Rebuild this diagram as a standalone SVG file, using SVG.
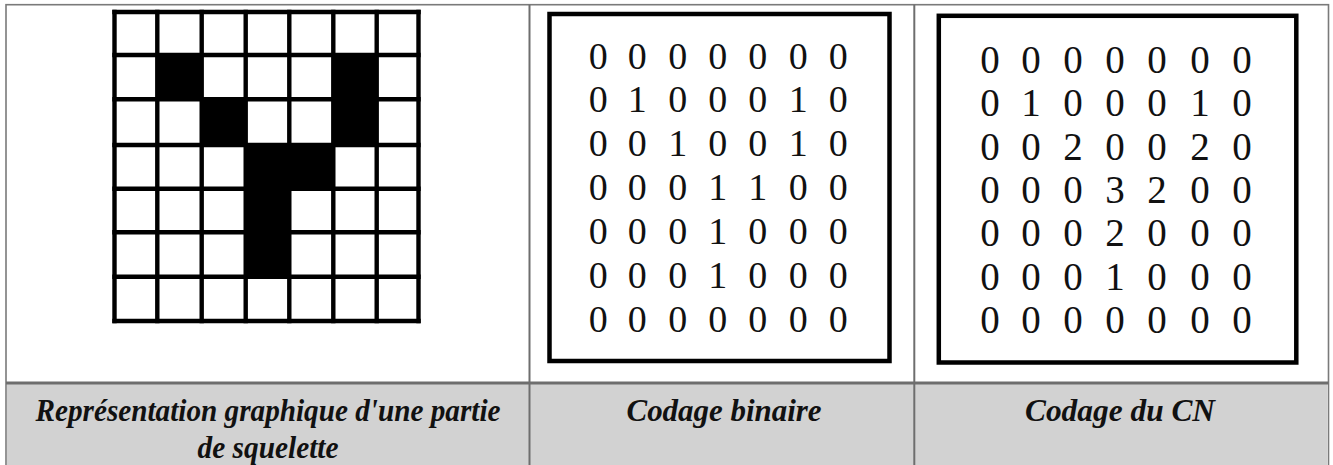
<svg xmlns="http://www.w3.org/2000/svg" width="1333" height="465" viewBox="0 0 1333 465">
<style>
.tbl{fill:none;stroke:#7a7a7a;stroke-width:1.6}
.div{stroke:#6e6e6e;fill:none}
.hdr{fill:#d2d2d2}
.gl{stroke:#000;stroke-width:4.4;fill:none;stroke-linecap:square}
.blk{fill:#000}
.box{fill:#fff;stroke:#000;stroke-width:4.5}
.b{font-family:"Liberation Serif","Times New Roman",serif;font-size:38px;fill:#111;text-anchor:middle}
.c{font-family:"Liberation Serif","Times New Roman",serif;font-size:39px;fill:#111;text-anchor:middle}
.lbl{font-family:"Liberation Serif","Times New Roman",serif;font-size:32px;font-weight:bold;font-style:italic;fill:#111;text-anchor:middle}
</style>
<rect width="1333" height="465" fill="#fff"/>
<g id="table">
<rect class="hdr" x="7" y="384" width="1320" height="82"/>
<rect class="tbl" x="6" y="4.7" width="1322.5" height="470"/>
<line class="div" x1="529.5" y1="4.7" x2="529.5" y2="465" stroke-width="2"/>
<line class="div" x1="914.3" y1="4.7" x2="914.3" y2="465" stroke-width="2"/>
<line class="div" x1="6" y1="383" x2="1328.5" y2="383" stroke-width="3"/>
</g>
<g id="skeleton-grid">
<rect class="blk" x="157" y="55" width="45" height="44"/>
<rect class="blk" x="333" y="55" width="44" height="44"/>
<rect class="blk" x="202" y="99" width="44" height="46"/>
<rect class="blk" x="333" y="99" width="44" height="46"/>
<rect class="blk" x="246" y="145" width="87" height="44"/>
<rect class="blk" x="246" y="189" width="43" height="88"/>
<path class="gl" d="M114.5 12H418.5M114.5 55H418.5M114.5 99.3H418.5M114.5 145H418.5M114.5 188.7H418.5M114.5 232.3H418.5M114.5 276.7H418.5M114.5 321H418.5"/>
<path class="gl" d="M114.5 12V321M157.3 12V321M201.7 12V321M245.7 12V321M289.3 12V321M333.3 12V321M376.7 12V321M418.5 12V321"/>
</g>
<g id="binary">
<rect class="box" x="549.5" y="14" width="340" height="347"/>
<text class="b" y="68.5"><tspan x="598.3">0</tspan><tspan x="637.3">0</tspan><tspan x="677.7">0</tspan><tspan x="717.7">0</tspan><tspan x="757.7">0</tspan><tspan x="798.3">0</tspan><tspan x="838.3">0</tspan></text>
<text class="b" y="112.4"><tspan x="598.3">0</tspan><tspan x="637.3">1</tspan><tspan x="677.7">0</tspan><tspan x="717.7">0</tspan><tspan x="757.7">0</tspan><tspan x="798.3">1</tspan><tspan x="838.3">0</tspan></text>
<text class="b" y="156.3"><tspan x="598.3">0</tspan><tspan x="637.3">0</tspan><tspan x="677.7">1</tspan><tspan x="717.7">0</tspan><tspan x="757.7">0</tspan><tspan x="798.3">1</tspan><tspan x="838.3">0</tspan></text>
<text class="b" y="200.2"><tspan x="598.3">0</tspan><tspan x="637.3">0</tspan><tspan x="677.7">0</tspan><tspan x="717.7">1</tspan><tspan x="757.7">1</tspan><tspan x="798.3">0</tspan><tspan x="838.3">0</tspan></text>
<text class="b" y="244.1"><tspan x="598.3">0</tspan><tspan x="637.3">0</tspan><tspan x="677.7">0</tspan><tspan x="717.7">1</tspan><tspan x="757.7">0</tspan><tspan x="798.3">0</tspan><tspan x="838.3">0</tspan></text>
<text class="b" y="288"><tspan x="598.3">0</tspan><tspan x="637.3">0</tspan><tspan x="677.7">0</tspan><tspan x="717.7">1</tspan><tspan x="757.7">0</tspan><tspan x="798.3">0</tspan><tspan x="838.3">0</tspan></text>
<text class="b" y="331.9"><tspan x="598.3">0</tspan><tspan x="637.3">0</tspan><tspan x="677.7">0</tspan><tspan x="717.7">0</tspan><tspan x="757.7">0</tspan><tspan x="798.3">0</tspan><tspan x="838.3">0</tspan></text>
</g>
<g id="cn">
<rect class="box" x="938.8" y="15.8" width="357.5" height="346.7"/>
<text class="c" y="72.7"><tspan x="990">0</tspan><tspan x="1031">0</tspan><tspan x="1073">0</tspan><tspan x="1115">0</tspan><tspan x="1157">0</tspan><tspan x="1200">0</tspan><tspan x="1242">0</tspan></text>
<text class="c" y="116.1"><tspan x="990">0</tspan><tspan x="1031">1</tspan><tspan x="1073">0</tspan><tspan x="1115">0</tspan><tspan x="1157">0</tspan><tspan x="1200">1</tspan><tspan x="1242">0</tspan></text>
<text class="c" y="159.6"><tspan x="990">0</tspan><tspan x="1031">0</tspan><tspan x="1073">2</tspan><tspan x="1115">0</tspan><tspan x="1157">0</tspan><tspan x="1200">2</tspan><tspan x="1242">0</tspan></text>
<text class="c" y="203"><tspan x="990">0</tspan><tspan x="1031">0</tspan><tspan x="1073">0</tspan><tspan x="1115">3</tspan><tspan x="1157">2</tspan><tspan x="1200">0</tspan><tspan x="1242">0</tspan></text>
<text class="c" y="246.4"><tspan x="990">0</tspan><tspan x="1031">0</tspan><tspan x="1073">0</tspan><tspan x="1115">2</tspan><tspan x="1157">0</tspan><tspan x="1200">0</tspan><tspan x="1242">0</tspan></text>
<text class="c" y="289.9"><tspan x="990">0</tspan><tspan x="1031">0</tspan><tspan x="1073">0</tspan><tspan x="1115">1</tspan><tspan x="1157">0</tspan><tspan x="1200">0</tspan><tspan x="1242">0</tspan></text>
<text class="c" y="333.3"><tspan x="990">0</tspan><tspan x="1031">0</tspan><tspan x="1073">0</tspan><tspan x="1115">0</tspan><tspan x="1157">0</tspan><tspan x="1200">0</tspan><tspan x="1242">0</tspan></text>
</g>
<g id="labels">
<text class="lbl" x="268" y="421" textLength="465" lengthAdjust="spacingAndGlyphs">Représentation graphique d'une partie</text>
<text class="lbl" x="268" y="458" textLength="141" lengthAdjust="spacingAndGlyphs">de squelette</text>
<text class="lbl" x="724" y="421" textLength="195" lengthAdjust="spacingAndGlyphs">Codage binaire</text>
<text class="lbl" x="1120" y="421" textLength="190" lengthAdjust="spacingAndGlyphs">Codage du CN</text>
</g>
</svg>
